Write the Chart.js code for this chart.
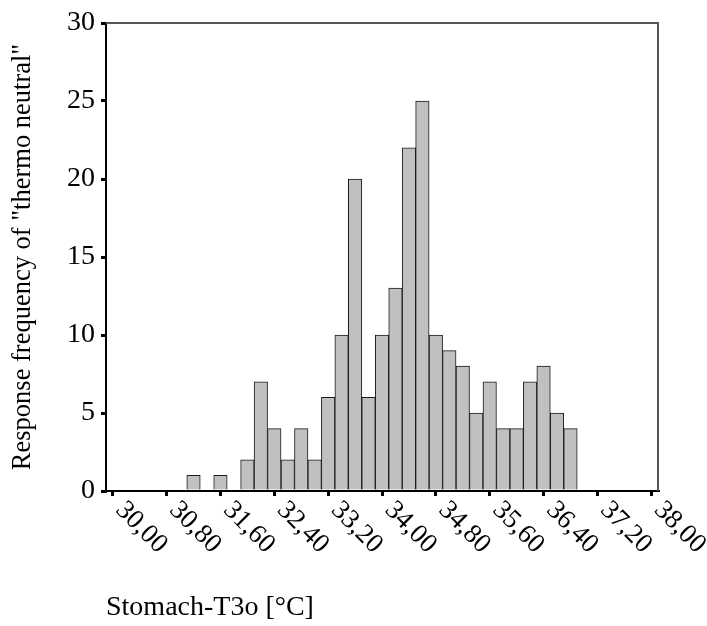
<!DOCTYPE html>
<html>
<head>
<meta charset="utf-8">
<script src="https://cdn.jsdelivr.net/npm/chart.js@4"></script>
<style>
  html, body { margin: 0; padding: 0; background: #fff; }
  #wrap { width: 707px; height: 626px; }
</style>
</head>
<body>
<div id="wrap"><canvas id="histChart" width="707" height="626"></canvas></div>
<script>
// bin centres (°C) and counts
const binCenters = [31.2, 31.4, 31.6, 31.8, 32.0, 32.2, 32.4, 32.6, 32.8, 33.0,
                    33.2, 33.4, 33.6, 33.8, 34.0, 34.2, 34.4, 34.6, 34.8, 35.0,
                    35.2, 35.4, 35.6, 35.8, 36.0, 36.2, 36.4, 36.6, 36.8];
const counts = [1, 0, 1, 0, 2, 7, 4, 2, 4, 2,
                6, 10, 20, 6, 10, 13, 22, 25, 10, 9,
                8, 5, 7, 4, 4, 7, 8, 5, 4];

const xTickValues = [30.0, 30.8, 31.6, 32.4, 33.2, 34.0, 34.8, 35.6, 36.4, 37.2, 38.0];
const xTickLabels = ['30,00', '30,80', '31,60', '32,40', '33,20', '34,00',
                     '34,80', '35,60', '36,40', '37,20', '38,00'];

const FONT = 'Liberation Serif';

// frame on top/right and x labels rotated clockwise (Chart.js only rotates the other way)
const framePlugin = {
    id: 'frameAndLabels',
    afterDraw(chart) {
        const ctx = chart.ctx;
        const a = chart.chartArea;
        const x = chart.scales.x;
        ctx.save();
        ctx.strokeStyle = '#555';
        ctx.lineWidth = 2;
        ctx.beginPath();
        ctx.moveTo(a.left, a.top);
        ctx.lineTo(a.right, a.top);
        ctx.lineTo(a.right, a.bottom);
        ctx.stroke();

        ctx.fillStyle = '#000';
        ctx.font = '27px "' + FONT + '"';
        ctx.textAlign = 'left';
        ctx.textBaseline = 'middle';
        xTickValues.forEach(function (v, i) {
            const px = x.getPixelForValue(v);
            ctx.save();
            ctx.translate(px + 7, a.bottom + 15);
            ctx.rotate(Math.PI / 4);
            ctx.fillText(xTickLabels[i], 0, 0);
            ctx.restore();
        });
        ctx.restore();
    }
};

const ctx = document.getElementById('histChart');
new Chart(ctx, {
    type: 'bar',
    data: {
        datasets: [{
            data: binCenters.map(function (c, i) { return { x: c, y: counts[i] }; }),
            backgroundColor: '#c0c0c0',
            borderColor: '#1a1a1a',
            borderWidth: 1,
            borderSkipped: 'start',
            categoryPercentage: 1,
            barPercentage: 1
        }]
    },
    options: {
        responsive: false,
        animation: false,
        layout: { padding: { top: 23, right: 49, left: 0, bottom: 0 } },
        plugins: {
            legend: { display: false },
            tooltip: { enabled: false }
        },
        scales: {
            x: {
                type: 'linear',
                min: 29.9,
                max: 38.1,
                offset: false,
                afterBuildTicks: function (scale) {
                    scale.ticks = xTickValues.map(function (v) { return { value: v }; });
                },
                afterFit: function (scale) { scale.height = 135; },
                ticks: { display: false },
                grid: {
                    offset: false,
                    drawOnChartArea: false,
                    drawTicks: true,
                    tickLength: 5,
                    lineWidth: 3,
                    color: '#000'
                },
                border: { display: true, color: '#000', width: 2 },
                title: {
                    display: true,
                    text: 'Stomach-T3o [°C]',
                    align: 'start',
                    color: '#000',
                    font: { family: FONT, size: 28 },
                    padding: { top: 0, bottom: 2 }
                }
            },
            y: {
                min: 0,
                max: 30,
                afterFit: function (scale) { scale.width = 106; },
                ticks: {
                    stepSize: 5,
                    color: '#000',
                    padding: 6,
                    font: { family: FONT, size: 28 }
                },
                grid: {
                    drawOnChartArea: false,
                    drawTicks: true,
                    tickLength: 5,
                    lineWidth: 3,
                    color: '#000'
                },
                border: { display: true, color: '#000', width: 2 },
                title: {
                    display: true,
                    text: 'Response frequency of "thermo neutral"',
                    color: '#000',
                    font: { family: FONT, size: 26.5 },
                    padding: { top: 7, bottom: 0 }
                }
            }
        }
    },
    plugins: [framePlugin]
});
</script>
</body>
</html>
